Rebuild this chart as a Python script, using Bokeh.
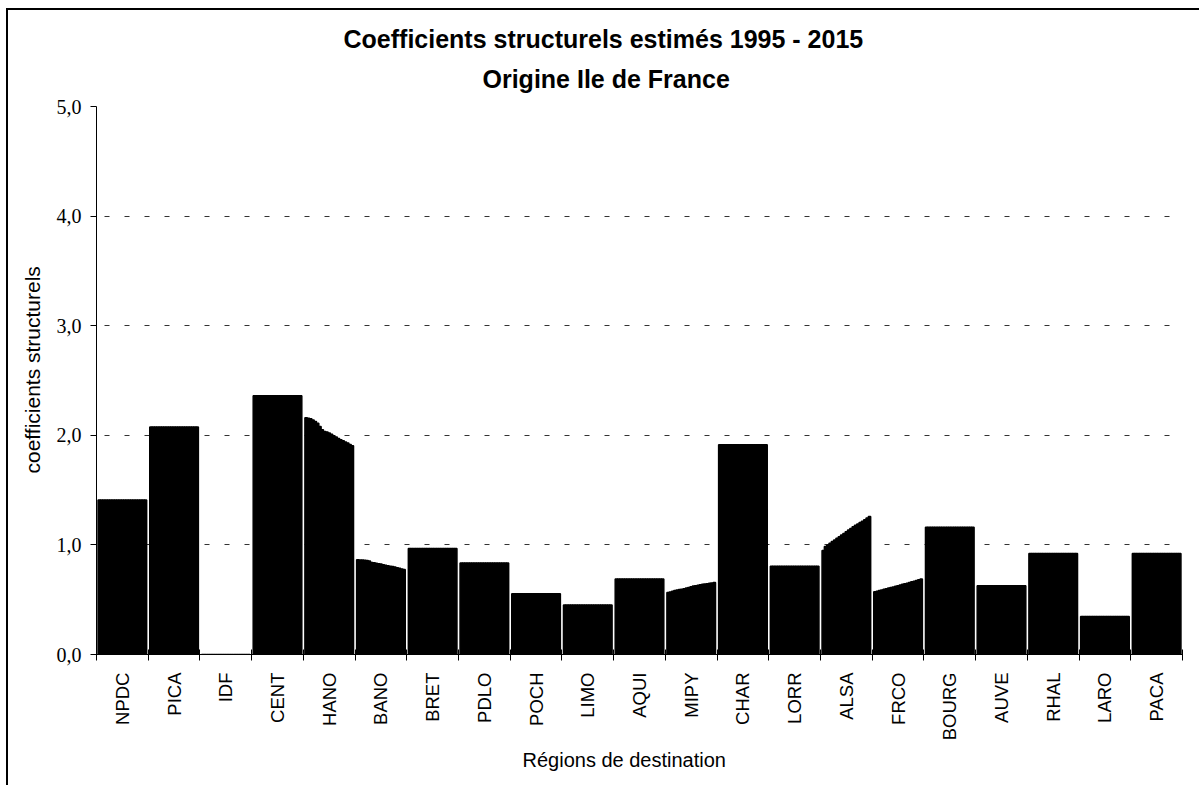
import math
from bokeh.plotting import figure
from bokeh.models import ColumnDataSource, FixedTicker, Range1d, Title
from bokeh.embed import file_html
from bokeh.resources import INLINE

# ---------------- data ----------------
regions = ["NPDC", "PICA", "IDF", "CENT", "HANO", "BANO", "BRET", "PDLO", "POCH", "LIMO",
           "AQUI", "MIPY", "CHAR", "LORR", "ALSA", "FRCO", "BOURG", "AUVE", "RHAL", "LARO", "PACA"]
years = [1995, 1996, 1997, 1998, 1999, 2000, 2001, 2002, 2003, 2004, 2005,
         2006, 2007, 2008, 2009, 2010, 2011, 2012, 2013, 2014, 2015]

npdc = [1.41, 1.41, 1.41, 1.41, 1.41, 1.41, 1.41, 1.41, 1.41, 1.41, 1.41, 1.41, 1.41, 1.41, 1.41, 1.41, 1.41, 1.41, 1.41, 1.41, 1.41]
pica = [2.075, 2.075, 2.075, 2.075, 2.075, 2.075, 2.075, 2.075, 2.075, 2.075, 2.075, 2.075, 2.075, 2.075, 2.075, 2.075, 2.075, 2.075, 2.075, 2.075, 2.075]
idf = [0, 0, 0, 0, 0, 0, 0, 0, 0, 0, 0, 0, 0, 0, 0, 0, 0, 0, 0, 0, 0]
cent = [2.36, 2.36, 2.36, 2.36, 2.36, 2.36, 2.36, 2.36, 2.36, 2.36, 2.36, 2.36, 2.36, 2.36, 2.36, 2.36, 2.36, 2.36, 2.36, 2.36, 2.36]
hano = [2.16, 2.155, 2.15, 2.14, 2.125, 2.11, 2.08, 2.05, 2.035, 2.03, 2.02, 2.01, 1.995, 1.985, 1.97, 1.96, 1.95, 1.94, 1.93, 1.915, 1.905]
bano = [0.864, 0.863, 0.862, 0.86, 0.857, 0.852, 0.84, 0.836, 0.832, 0.828, 0.825, 0.82, 0.815, 0.81, 0.806, 0.802, 0.798, 0.792, 0.786, 0.78, 0.775]
bret = [0.967, 0.967, 0.967, 0.967, 0.967, 0.967, 0.967, 0.967, 0.967, 0.967, 0.967, 0.967, 0.967, 0.967, 0.967, 0.967, 0.967, 0.967, 0.967, 0.967, 0.967]
pdlo = [0.834, 0.834, 0.834, 0.834, 0.834, 0.834, 0.834, 0.834, 0.834, 0.834, 0.834, 0.834, 0.834, 0.834, 0.834, 0.834, 0.834, 0.834, 0.834, 0.834, 0.834]
poch = [0.554, 0.554, 0.554, 0.554, 0.554, 0.554, 0.554, 0.554, 0.554, 0.554, 0.554, 0.554, 0.554, 0.554, 0.554, 0.554, 0.554, 0.554, 0.554, 0.554, 0.554]
limo = [0.451, 0.451, 0.451, 0.451, 0.451, 0.451, 0.451, 0.451, 0.451, 0.451, 0.451, 0.451, 0.451, 0.451, 0.451, 0.451, 0.451, 0.451, 0.451, 0.451, 0.451]
aqui = [0.688, 0.688, 0.688, 0.688, 0.688, 0.688, 0.688, 0.688, 0.688, 0.688, 0.688, 0.688, 0.688, 0.688, 0.688, 0.688, 0.688, 0.688, 0.688, 0.688, 0.688]
mipy = [0.566, 0.57, 0.578, 0.583, 0.588, 0.592, 0.596, 0.6, 0.606, 0.612, 0.618, 0.624, 0.628, 0.632, 0.636, 0.64, 0.643, 0.646, 0.65, 0.653, 0.657]
char = [1.913, 1.913, 1.913, 1.913, 1.913, 1.913, 1.913, 1.913, 1.913, 1.913, 1.913, 1.913, 1.913, 1.913, 1.913, 1.913, 1.913, 1.913, 1.913, 1.913, 1.913]
lorr = [0.806, 0.806, 0.806, 0.806, 0.806, 0.806, 0.806, 0.806, 0.806, 0.806, 0.806, 0.806, 0.806, 0.806, 0.806, 0.806, 0.806, 0.806, 0.806, 0.806, 0.806]
alsa = [0.95, 0.985, 1.0, 1.015, 1.03, 1.045, 1.06, 1.075, 1.09, 1.105, 1.12, 1.135, 1.15, 1.165, 1.18, 1.19, 1.205, 1.215, 1.23, 1.245, 1.26]
frco = [0.572, 0.578, 0.584, 0.589, 0.595, 0.6, 0.606, 0.611, 0.617, 0.622, 0.628, 0.634, 0.64, 0.645, 0.651, 0.657, 0.663, 0.669, 0.675, 0.681, 0.688]
bourg = [1.162, 1.162, 1.162, 1.162, 1.162, 1.162, 1.162, 1.162, 1.162, 1.162, 1.162, 1.162, 1.162, 1.162, 1.162, 1.162, 1.162, 1.162, 1.162, 1.162, 1.162]
auve = [0.627, 0.627, 0.627, 0.627, 0.627, 0.627, 0.627, 0.627, 0.627, 0.627, 0.627, 0.627, 0.627, 0.627, 0.627, 0.627, 0.627, 0.627, 0.627, 0.627, 0.627]
rhal = [0.922, 0.922, 0.922, 0.922, 0.922, 0.922, 0.922, 0.922, 0.922, 0.922, 0.922, 0.922, 0.922, 0.922, 0.922, 0.922, 0.922, 0.922, 0.922, 0.922, 0.922]
laro = [0.347, 0.347, 0.347, 0.347, 0.347, 0.347, 0.347, 0.347, 0.347, 0.347, 0.347, 0.347, 0.347, 0.347, 0.347, 0.347, 0.347, 0.347, 0.347, 0.347, 0.347]
paca = [0.922, 0.922, 0.922, 0.922, 0.922, 0.922, 0.922, 0.922, 0.922, 0.922, 0.922, 0.922, 0.922, 0.922, 0.922, 0.922, 0.922, 0.922, 0.922, 0.922, 0.922]

series = [npdc, pica, idf, cent, hano, bano, bret, pdlo, poch, limo, aqui,
          mipy, char, lorr, alsa, frco, bourg, auve, rhal, laro, paca]

y_ticks = [0, 1, 2, 3, 4, 5]
y_tick_labels = ["0,0", "1,0", "2,0", "3,0", "4,0", "5,0"]

title_1 = "Coefficients structurels estimés 1995 - 2015"
title_2 = "Origine Ile de France"
x_title = "Régions de destination"
y_title = "coefficients structurels"

# ---------------- layout ----------------
W, H = 1193, 777
ORG_X, ORG_Y = 8, 10      # page position of canvas origin (after css margin + border)
FL, FR, FT, FB = 96, 1182, 106, 654   # frame edges in page pixels

n = len(regions)
gap = 0.06
w = (1 - gap) / len(years)

left, right, top = [], [], []
for i, vals in enumerate(series):
    for j, v in enumerate(vals):
        l = i + gap / 2 + j * w
        left.append(l)
        right.append(l + w)
        top.append(v)
src = ColumnDataSource(dict(left=left, right=right, top=top, bottom=[0] * len(top)))

p = figure(width=W, height=H, output_backend="svg", toolbar_location=None,
           x_range=Range1d(0, n), y_range=Range1d(0, 5),
           min_border_left=FL - ORG_X, min_border_right=(ORG_X + W) - FR,
           min_border_top=FT - ORG_Y, min_border_bottom=(ORG_Y + H) - FB)
p.styles = {"margin-top": "8px", "margin-left": "6px",
            "border-top": "2px solid black", "border-left": "2px solid black"}
p.outline_line_color = None
p.background_fill_color = "white"
p.border_fill_color = "white"

p.quad(left="left", right="right", top="top", bottom="bottom", source=src,
       fill_color="black", line_color="black", line_width=1.5)

# y axis
p.yaxis.ticker = FixedTicker(ticks=y_ticks, minor_ticks=[])
p.yaxis.major_label_overrides = {t: s for t, s in zip(y_ticks, y_tick_labels)}
p.yaxis.major_label_text_font = "Liberation Serif"
p.yaxis.major_label_text_font_size = "20px"
p.yaxis.major_label_text_color = "black"
p.yaxis.major_label_standoff = 9
p.yaxis.major_tick_out = 6
p.yaxis.major_tick_in = 0
p.yaxis.major_tick_line_color = "black"
p.yaxis.axis_line_color = "black"

# x axis
centers = [i + 0.5 for i in range(n)]
bounds = [i for i in range(n + 1)]
p.xaxis.ticker = FixedTicker(ticks=centers, minor_ticks=bounds)
p.xaxis.major_label_overrides = {c: r for c, r in zip(centers, regions)}
p.xaxis.major_label_orientation = math.pi / 2
p.xaxis.major_label_text_font = "Liberation Sans"
p.xaxis.major_label_text_font_size = "18.5px"
p.xaxis.major_label_text_color = "black"
p.xaxis.major_label_standoff = 12
p.xaxis.major_tick_out = 0
p.xaxis.major_tick_in = 0
p.xaxis.minor_tick_out = 6
p.xaxis.minor_tick_in = 5
p.xaxis.minor_tick_line_color = "black"
p.xaxis.axis_line_color = "black"

# grid
p.xgrid.visible = False
p.ygrid.ticker = FixedTicker(ticks=y_ticks[1:])
p.ygrid.grid_line_color = "#333333"
p.ygrid.grid_line_dash = "5 15"
p.ygrid.grid_line_dash_offset = 12

# titles (line 2 first: closest to the frame)
p.add_layout(Title(text=title_2, align="left", offset=386, standoff=27,
                   text_font="Liberation Sans", text_font_style="bold",
                   text_font_size="25px", text_color="black"), "above")
p.add_layout(Title(text=title_1, align="left", offset=247, standoff=-6,
                   text_font="Liberation Sans", text_font_style="bold",
                   text_font_size="25px", text_color="black"), "above")
p.add_layout(Title(text=x_title, align="left", offset=426, standoff=6,
                   text_font="Liberation Sans", text_font_style="normal",
                   text_font_size="20px", text_color="black"), "below")
p.add_layout(Title(text=y_title, align="left", offset=181, standoff=20,
                   text_font="Liberation Sans", text_font_style="normal",
                   text_font_size="21px", text_color="black"), "left")

open("out.html", "w").write(file_html(p, INLINE))
